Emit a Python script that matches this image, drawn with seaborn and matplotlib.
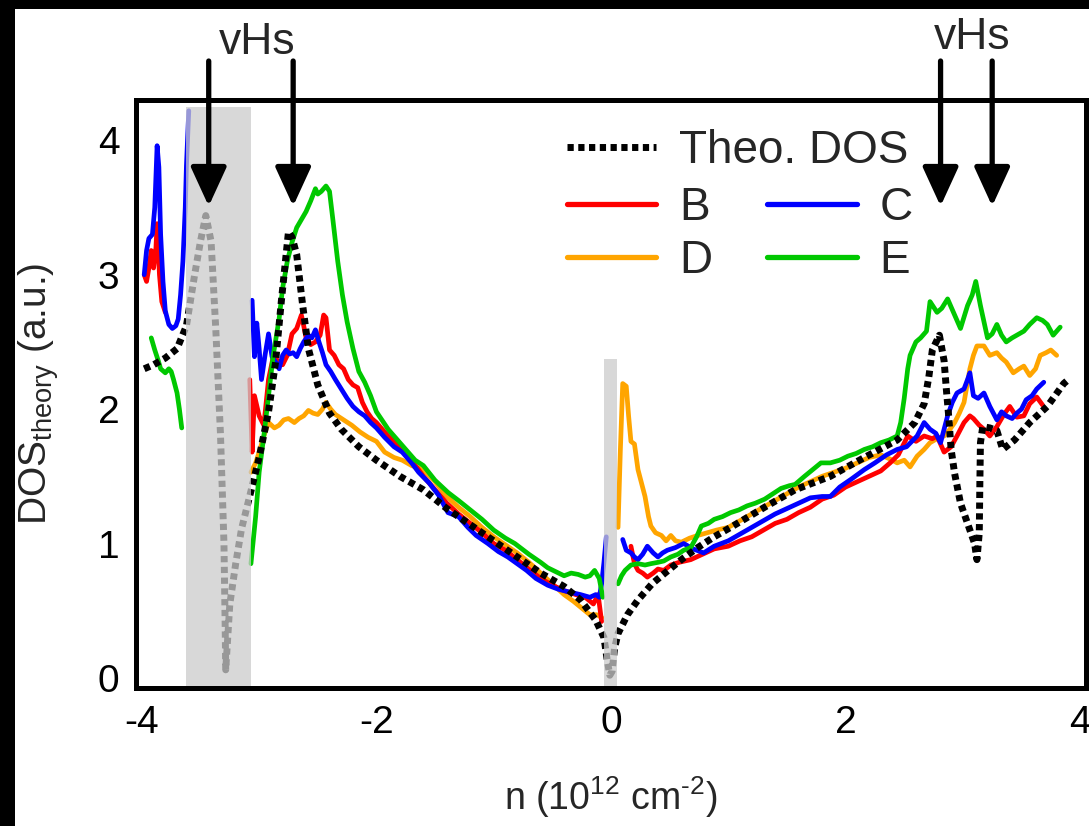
import numpy as np
import pandas as pd
import matplotlib
matplotlib.use("Agg")
import matplotlib.pyplot as plt
import seaborn as sns
from matplotlib.lines import Line2D
from matplotlib.patches import Rectangle

# ---------------- data ----------------
N = None  # segment break

theo_x = [-3.98, -3.90, -3.80, -3.70, -3.62, -3.55, -3.50, -3.455, -3.41, -3.37, -3.33, -3.30, -3.29, -3.285,
          -3.25, -3.20, -3.15, -3.07, -3.00, -2.92, -2.86, -2.81, -2.77, -2.75, -2.72, -2.68, -2.63, -2.58,
          -2.50, -2.40, -2.30, -2.15, -2.00, -1.80, -1.60, -1.40, -1.20, -1.00, -0.80, -0.60, -0.40, -0.26,
          -0.13, -0.06, -0.03, -0.01, 0.01, 0.03, 0.06, 0.14, 0.23, 0.35, 0.46, 0.60, 0.74, 0.88, 1.02, 1.31,
          1.57, 1.87, 2.16, 2.44, 2.59, 2.67, 2.71, 2.74, 2.80, 2.84, 2.86, 2.88, 2.90, 2.93, 2.98, 3.04, 3.10,
          3.12, 3.14, 3.145, 3.15, 3.17, 3.23, 3.29, 3.34, 3.44, 3.57, 3.72, 3.86, 3.90]
theo_y = [2.30, 2.33, 2.38, 2.45, 2.62, 3.00, 3.25, 3.44, 3.25, 2.60, 1.82, 1.00, 0.40, 0.06,
          0.55, 0.85, 1.11, 1.39, 1.64, 1.98, 2.35, 2.81, 3.15, 3.32, 3.28, 3.15, 2.78, 2.45,
          2.18, 1.97, 1.85, 1.72, 1.62, 1.50, 1.40, 1.26, 1.14, 1.02, 0.90, 0.78, 0.68, 0.58,
          0.43, 0.30, 0.12, 0.02, 0.05, 0.22, 0.33, 0.47, 0.58, 0.70, 0.78, 0.88, 0.97, 1.05, 1.12, 1.27,
          1.40, 1.50, 1.64, 1.77, 1.90, 2.04, 2.24, 2.44, 2.55, 2.36, 2.14, 1.94, 1.70, 1.52, 1.30, 1.15, 1.00,
          0.88, 1.08, 1.45, 1.75, 1.87, 1.86, 1.84, 1.70, 1.77, 1.90, 2.02, 2.19, 2.22]

b_x = [-3.98, -3.96, -3.94, -3.92, -3.90, -3.88, -3.87, -3.85, -3.83, -3.80, N,
       -3.08, -3.06, -3.04, -3.00, -2.96, -2.92, -2.88, -2.84, -2.80, -2.76, -2.72, -2.68, -2.64, -2.62, -2.60,
       -2.56, -2.52, -2.48, -2.45, -2.43, -2.40, -2.36, -2.32, -2.28, -2.24, -2.20, -2.16, -2.12, -2.08, -2.04,
       -2.00, -1.90, -1.80, -1.70, -1.60, -1.50, -1.40, -1.30, -1.20, -1.10, -1.00, -0.90, -0.80, -0.70, -0.60,
       -0.50, -0.40, -0.30, -0.22, -0.15, -0.11, -0.08, N,
       0.17, 0.20, 0.23, 0.27, 0.31, 0.36, 0.40, 0.45, 0.51, 0.58, 0.68, 0.78, 0.88, 1.00, 1.10, 1.20, 1.30,
       1.40, 1.50, 1.60, 1.70, 1.80, 1.90, 2.00, 2.10, 2.20, 2.30, 2.38, 2.45, 2.53, 2.60, 2.67, 2.74, 2.78,
       2.84, 2.90, 2.95, 3.01, 3.06, 3.09, 3.14, 3.18, 3.23, 3.29, 3.35, 3.40, 3.46, 3.52, 3.57, 3.63, 3.68]
b_y = [3.00, 2.95, 3.05, 3.18, 3.05, 3.20, 3.38, 3.00, 2.80, 2.72, N,
       2.22, 1.68, 2.10, 1.95, 1.88, 2.22, 2.39, 2.36, 2.33, 2.40, 2.56, 2.60, 2.70, 2.62, 2.53,
       2.48, 2.50, 2.55, 2.70, 2.68, 2.44, 2.40, 2.33, 2.30, 2.22, 2.18, 2.16, 2.05, 1.98, 1.93,
       1.90, 1.80, 1.72, 1.62, 1.50, 1.40, 1.30, 1.22, 1.15, 1.08, 1.00, 0.95, 0.88, 0.81, 0.74,
       0.69, 0.65, 0.62, 0.60, 0.55, 0.62, 0.42, N,
       0.98, 0.85, 0.80, 0.78, 0.75, 0.78, 0.81, 0.80, 0.84, 0.86, 0.88, 0.92, 0.96, 0.98, 1.02, 1.05, 1.10,
       1.15, 1.18, 1.23, 1.27, 1.33, 1.36, 1.42, 1.46, 1.50, 1.54, 1.60, 1.66, 1.80, 1.76, 1.80, 1.78, 1.80,
       1.68, 1.72, 1.80, 1.90, 1.95, 1.93, 1.88, 1.85, 1.80, 1.87, 1.96, 2.02, 1.94, 1.95, 2.04, 2.09, 2.03]

c_x = [-3.98, -3.96, -3.94, -3.91, -3.89, -3.87, -3.855, -3.84, -3.82, -3.80, -3.77, -3.74, -3.71, -3.69,
       -3.67, -3.65, -3.63, -3.62, -3.60, N,
       -3.06, -3.04, -3.02, -3.00, -2.98, -2.95, -2.92, -2.89, -2.86, -2.83, -2.80, -2.77, -2.74, -2.71, -2.68,
       -2.65, -2.62, -2.58, -2.55, -2.52, -2.49, -2.46, -2.43, -2.39, -2.35, -2.30, -2.25, -2.20, -2.15, -2.10,
       -2.05, -2.00, -1.93, -1.85, -1.78, -1.70, -1.64, -1.55, -1.47, -1.39, -1.30, -1.22, -1.15, -1.05, -0.96,
       -0.88, -0.80, -0.72, -0.64, -0.54, -0.45, -0.36, -0.26, -0.18, -0.13, -0.10, -0.08, -0.06, -0.04, N,
       0.10, 0.13, 0.17, 0.20, 0.23, 0.27, 0.31, 0.36, 0.40, 0.44, 0.48, 0.55, 0.62, 0.70, 0.79, 0.88, 1.00,
       1.10, 1.20, 1.30, 1.40, 1.50, 1.60, 1.70, 1.80, 1.87, 1.95, 2.05, 2.16, 2.25, 2.35, 2.44, 2.52, 2.61,
       2.67, 2.72, 2.77, 2.81, 2.87, 2.91, 2.95, 3.01, 3.04, 3.06, 3.09, 3.13, 3.18, 3.23, 3.29, 3.33, 3.37,
       3.42, 3.46, 3.50, 3.54, 3.59, 3.63, 3.69]
c_y = [3.00, 3.18, 3.27, 3.30, 3.50, 3.96, 3.80, 3.30, 2.95, 2.73, 2.63, 2.60, 2.62, 2.67,
       2.85, 3.10, 3.50, 3.81, 4.22, N,
       2.81, 2.39, 2.64, 2.45, 2.22, 2.40, 2.56, 2.39, 2.35, 2.30, 2.40, 2.44, 2.41, 2.42, 2.39,
       2.45, 2.50, 2.55, 2.53, 2.59, 2.50, 2.42, 2.33, 2.28, 2.22, 2.15, 2.08, 2.02, 1.98, 1.95,
       1.90, 1.86, 1.79, 1.72, 1.68, 1.60, 1.53, 1.45, 1.36, 1.23, 1.20, 1.12, 1.06, 1.00, 0.94,
       0.90, 0.85, 0.80, 0.74, 0.69, 0.66, 0.64, 0.62, 0.60, 0.62, 0.60, 0.70, 0.86, 1.05, N,
       1.03, 0.95, 0.93, 0.90, 0.88, 0.92, 0.98, 0.93, 0.90, 0.93, 0.95, 0.97, 1.00, 0.96, 0.93, 0.98, 1.02,
       1.07, 1.12, 1.17, 1.22, 1.26, 1.30, 1.34, 1.35, 1.35, 1.42, 1.48, 1.55, 1.60, 1.66, 1.70, 1.72, 1.80,
       1.90, 1.85, 1.82, 1.75, 1.95, 2.05, 2.12, 2.15, 2.22, 2.27, 2.10, 2.08, 2.12, 2.02, 1.92, 1.98, 1.95,
       1.93, 1.97, 2.00, 2.07, 2.10, 2.15, 2.20]

d_x = [-3.07, -3.03, -3.00, -2.96, -2.92, -2.87, -2.83, -2.79, -2.75, -2.70, -2.66, -2.62, -2.58, -2.54,
       -2.50, -2.46, -2.43, -2.39, -2.35, -2.28, -2.21, -2.14, -2.07, -2.00, -1.93, -1.85, -1.78, -1.70,
       -1.60, -1.50, -1.40, -1.30, -1.20, -1.10, -1.00, -0.90, -0.80, -0.70, -0.60, -0.50, -0.40, -0.32,
       -0.25, -0.18, -0.12, -0.08, N,
       0.06, 0.08, 0.10, 0.13, 0.15, 0.17, 0.20, 0.23, 0.26, 0.29, 0.32, 0.34, 0.38, 0.43, 0.47, 0.51, 0.55,
       0.60, 0.67, 0.74, 0.82, 0.90, 1.00, 1.10, 1.20, 1.30, 1.40, 1.50, 1.60, 1.70, 1.80, 1.90, 2.00, 2.10,
       2.20, 2.30, 2.40, 2.44, 2.50, 2.55, 2.61, 2.67, 2.72, 2.78, 2.84, 2.89, 2.93, 2.97, 3.01, 3.04, 3.06,
       3.09, 3.12, 3.18, 3.23, 3.29, 3.33, 3.37, 3.43, 3.48, 3.52, 3.57, 3.62, 3.66, 3.71, 3.75, 3.80]
d_y = [1.53, 1.60, 1.68, 1.80, 1.90, 1.86, 1.88, 1.92, 1.93, 1.90, 1.93, 1.95, 1.99, 1.97,
       1.96, 2.00, 2.05, 2.00, 1.96, 1.92, 1.88, 1.83, 1.79, 1.76, 1.68, 1.64, 1.62, 1.58,
       1.55, 1.46, 1.35, 1.27, 1.20, 1.12, 1.05, 0.99, 0.93, 0.86, 0.78, 0.70, 0.62, 0.57,
       0.52, 0.47, 0.47, 0.45, N,
       1.12, 1.70, 2.19, 2.17, 1.95, 1.76, 1.74, 1.55, 1.45, 1.35, 1.20, 1.13, 1.08, 1.06, 1.02, 1.06, 1.02,
       1.01, 1.04, 1.06, 1.08, 1.10, 1.12, 1.17, 1.22, 1.27, 1.32, 1.37, 1.42, 1.46, 1.50, 1.53, 1.56, 1.60,
       1.64, 1.66, 1.62, 1.60, 1.62, 1.57, 1.65, 1.70, 1.75, 1.78, 1.80, 1.85, 1.90, 1.97, 2.05, 2.20, 2.30,
       2.40, 2.47, 2.47, 2.40, 2.42, 2.38, 2.35, 2.27, 2.30, 2.32, 2.25, 2.30, 2.40, 2.42, 2.44, 2.40]

e_x = [-3.92, -3.89, -3.86, -3.84, -3.80, -3.77, -3.75, -3.73, -3.70, -3.68, -3.66, N,
       -3.07, -3.03, -3.00, -2.96, -2.92, -2.88, -2.83, -2.80, -2.76, -2.72, -2.68, -2.64, -2.60, -2.56,
       -2.52, -2.50, -2.47, -2.43, -2.40, -2.37, -2.33, -2.29, -2.25, -2.20, -2.15, -2.10, -2.05, -2.00,
       -1.90, -1.80, -1.67, -1.60, -1.50, -1.39, -1.30, -1.20, -1.10, -1.00, -0.90, -0.82, -0.70, -0.60,
       -0.54, -0.47, -0.40, -0.34, -0.28, -0.22, -0.18, -0.14, -0.10, -0.07, N,
       0.06, 0.09, 0.12, 0.17, 0.23, 0.29, 0.34, 0.40, 0.45, 0.51, 0.57, 0.62, 0.68, 0.73, 0.77, 0.83, 0.88,
       0.95, 1.02, 1.09, 1.16, 1.23, 1.31, 1.38, 1.45, 1.52, 1.57, 1.65, 1.72, 1.79, 1.87, 1.95, 2.02, 2.09,
       2.16, 2.23, 2.30, 2.37, 2.44, 2.47, 2.50, 2.53, 2.55, 2.60, 2.64, 2.69, 2.72, 2.75, 2.78, 2.82, 2.87,
       2.90, 2.93, 2.98, 3.04, 3.08, 3.11, 3.15, 3.21, 3.25, 3.29, 3.33, 3.37, 3.42, 3.46, 3.52, 3.57, 3.63,
       3.68, 3.72, 3.77, 3.80, 3.83]
e_y = [2.53, 2.44, 2.36, 2.30, 2.27, 2.30, 2.28, 2.22, 2.12, 2.00, 1.86, N,
       0.85, 1.20, 1.53, 1.80, 2.10, 2.40, 2.67, 2.90, 3.10, 3.24, 3.35, 3.41, 3.47, 3.55,
       3.64, 3.60, 3.62, 3.66, 3.62, 3.40, 3.10, 2.85, 2.65, 2.45, 2.28, 2.20, 2.10, 1.98,
       1.85, 1.75, 1.62, 1.58, 1.47, 1.38, 1.32, 1.25, 1.18, 1.10, 1.04, 1.00, 0.92, 0.86,
       0.82, 0.79, 0.76, 0.78, 0.77, 0.75, 0.76, 0.80, 0.74, 0.60, N,
       0.70, 0.76, 0.80, 0.84, 0.85, 0.84, 0.85, 0.86, 0.87, 0.90, 0.92, 0.95, 0.97, 1.05, 1.13, 1.15, 1.18,
       1.20, 1.23, 1.25, 1.28, 1.30, 1.33, 1.37, 1.41, 1.43, 1.44, 1.50, 1.55, 1.60, 1.60, 1.62, 1.65, 1.67,
       1.70, 1.72, 1.75, 1.77, 1.80, 1.90, 2.08, 2.30, 2.40, 2.50, 2.53, 2.58, 2.80, 2.76, 2.72, 2.75, 2.82,
       2.76, 2.70, 2.60, 2.77, 2.85, 2.95, 2.77, 2.53, 2.56, 2.63, 2.55, 2.50, 2.53, 2.55, 2.58, 2.63, 2.68,
       2.66, 2.63, 2.55, 2.58, 2.61]

samples = ["B", "C", "D", "E"]
sample_colors = {"B": "#ff0000", "C": "#0000ff", "D": "#ffa500", "E": "#00c800"}
theo_label = "Theo. DOS"

# shaded (excluded) regions: (x_start, x_end, top)
shade_regions = [(-3.62, -3.07, 4.25), (-0.06, 0.05, 2.37)]
# van Hove singularity arrows: (x, tip y)
vhs_left = [-3.43, -2.71]
vhs_right = [2.81, 3.25]
vhs_tip = 3.51

# ---------------- build long-form frame ----------------
rows = []
for name, xs, ys in [("D", d_x, d_y), ("B", b_x, b_y), ("C", c_x, c_y), ("E", e_x, e_y)]:
    seg = 0
    for x, y in zip(xs, ys):
        if x is None:
            seg += 1
            continue
        rows.append((name, f"{name}{seg}", x, y))
df = pd.DataFrame(rows, columns=["sample", "seg", "n", "dos"])
theo_df = pd.DataFrame({"n": theo_x, "dos": theo_y})

# ---------------- style ----------------
sns.set_style("white")
plt.rcParams["font.family"] = ["Liberation Sans", "DejaVu Sans"]
plt.rcParams["mathtext.fontset"] = "custom"
plt.rcParams["mathtext.rm"] = "Liberation Sans"
plt.rcParams["mathtext.it"] = "Liberation Sans"
plt.rcParams["mathtext.default"] = "regular"
plt.rcParams["axes.unicode_minus"] = False

fig = plt.figure(figsize=(10.89, 8.26), dpi=100, facecolor="white")
# black border strips (top, left) like the reference crop
fig.add_artist(Rectangle((0, 1 - 9 / 826), 1, 9 / 826, transform=fig.transFigure,
                         facecolor="black", edgecolor="none", zorder=0))
fig.add_artist(Rectangle((0, 0), 15 / 1089, 1, transform=fig.transFigure,
                         facecolor="black", edgecolor="none", zorder=0))

ax = fig.add_axes([136 / 1089, 1 - 688 / 826, (1086 - 136) / 1089, (688 - 100) / 826])
ax.set_facecolor("white")

dot_style = (0, (0.9, 0.65))

sns.lineplot(data=df, x="n", y="dos", hue="sample", units="seg", estimator=None, sort=False,
             hue_order=["D", "B", "C", "E"], palette=sample_colors, linewidth=3.4,
             legend=False, ax=ax, zorder=2)
sns.lineplot(data=theo_df, x="n", y="dos", sort=False, color="black", linewidth=5.0,
             linestyle=dot_style, legend=False, ax=ax, zorder=2.5)
ax.lines[-1].set_dash_capstyle("butt")

for x0, x1, top in shade_regions:
    ax.fill_between([x0, x1], -0.1, top, color=(0.8, 0.8, 0.8), alpha=0.75, linewidth=0, zorder=3)

ax.set_xlim(-4.05, 4.05)
ax.set_ylim(-0.075, 4.3)
ax.set_xticks([-4, -2, 0, 2, 4])
ax.set_xticklabels(["-4", "-2", "0", "2", "4"])
ax.set_yticks([0, 1, 2, 3, 4])
ax.set_yticklabels(["0", "1", "2", "3", "4"])
ax.tick_params(axis="both", direction="in", length=10, width=3.6, labelsize=28, color="black",
               labelcolor="black")
ax.tick_params(axis="x", pad=12)
ax.tick_params(axis="y", pad=12)
for s in ax.spines.values():
    s.set_linewidth(3.6)
    s.set_color("black")
    s.set_zorder(6)

ax.set_xlabel(r"n (10$^{12}$ cm$^{\text{-}2}$)", fontsize=27, labelpad=24)
ax.set_ylabel(r"DOS$_{theory}$ (a.u.)", fontsize=28, labelpad=26)

# vHs arrows and labels
for x in vhs_left + vhs_right:
    ax.annotate("", xy=(x, vhs_tip), xytext=(x, 4.59), xycoords="data", textcoords="data",
                annotation_clip=False, zorder=7,
                arrowprops=dict(arrowstyle="-|>,head_length=0.48,head_width=0.22", color="black",
                                lw=3.8, mutation_scale=50, shrinkA=0, shrinkB=0))
ax.text(np.mean(vhs_left) + 0.05, 4.64, "vHs", fontsize=32, ha="center", va="baseline", clip_on=False)
ax.text(np.mean(vhs_right) + 0.05, 4.68, "vHs", fontsize=32, ha="center", va="baseline", clip_on=False)

# legends
theo_handle = Line2D([], [], color="black", linewidth=5.0, linestyle=dot_style, dash_capstyle="butt")
leg1 = ax.legend([theo_handle], [theo_label], loc="upper left", bbox_to_anchor=(0.4537, 0.951),
                 frameon=False, fontsize=33, handlelength=1.95, handletextpad=0.5,
                 borderpad=0, borderaxespad=0)
ax.add_artist(leg1)
order = ["B", "D", "C", "E"]
handles = [Line2D([], [], color=sample_colors[s], linewidth=3.8) for s in order]
ax.legend(handles, order, ncol=2, loc="upper left", bbox_to_anchor=(0.4537, 0.853),
          frameon=False, fontsize=33, handlelength=1.95, handletextpad=0.5, columnspacing=1.2,
          labelspacing=0.185, borderpad=0, borderaxespad=0)

fig.savefig("out.png", dpi=100, facecolor="white")
